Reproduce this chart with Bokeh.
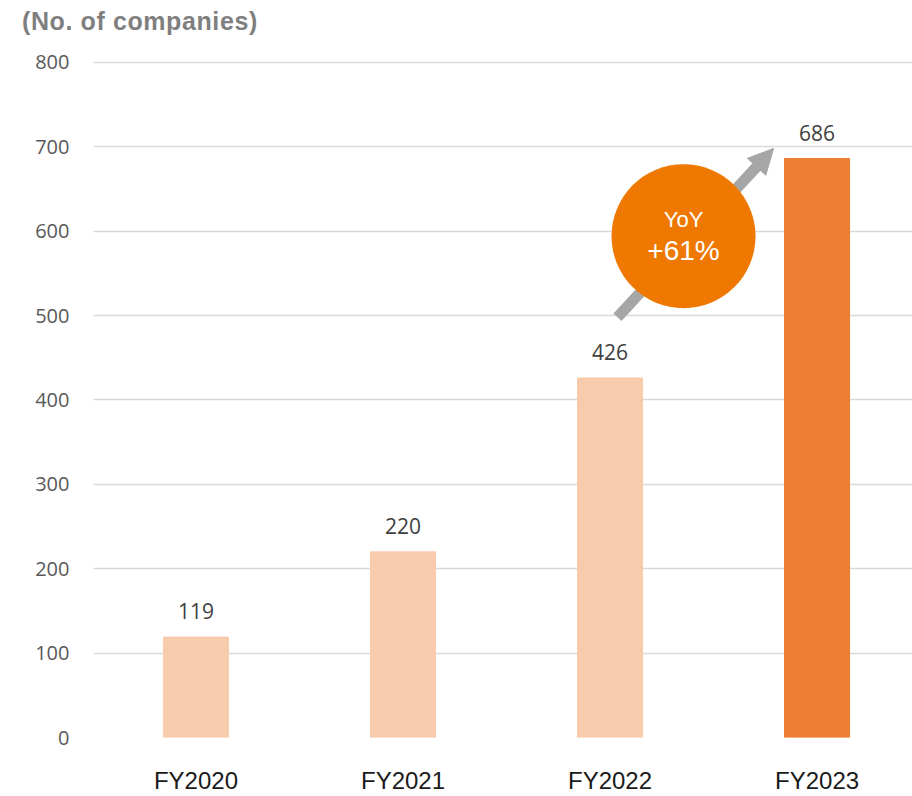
from bokeh.plotting import figure
from bokeh.layouts import column
from bokeh.models import Range1d, FixedTicker, Arrow, NormalHead, ColumnDataSource, Div
from bokeh.core.properties import value
from bokeh.embed import file_html
from bokeh.resources import INLINE

# ---- data ----
categories = ["FY2020", "FY2021", "FY2022", "FY2023"]
companies = [119, 220, 426, 686]
y_ticks = [0, 100, 200, 300, 400, 500, 600, 700, 800]
unit_label = "(No. of companies)"
yoy_label = "YoY"
yoy_pct = round((companies[3] / companies[2] - 1) * 100)

# ---- styles ----
bar_colors = ["#F8CBAD", "#F8CBAD", "#F8CBAD", "#ED7D31"]
grid_color = "#D9D9D9"

idx = list(range(len(categories)))

# unit title above the chart
head = Div(text=unit_label, width=912, height=45, margin=0,
           styles={"font-family": "Liberation Sans", "font-weight": "bold",
                   "font-size": "25px", "letter-spacing": "0.6px",
                   "line-height": "29px", "color": "#7F7F7F",
                   "padding-left": "22px", "padding-top": "7px",
                   "box-sizing": "border-box"})

p = figure(width=912, height=751,
           x_range=Range1d(-0.495, 3.461), y_range=Range1d(0, 801),
           output_backend="svg", toolbar_location=None,
           min_border_left=93, min_border_right=0,
           min_border_top=16, min_border_bottom=59, margin=0)
p.outline_line_color = None
p.background_fill_color = "white"
p.border_fill_color = "white"

# grid
p.xgrid.visible = False
p.ygrid.ticker = FixedTicker(ticks=y_ticks)
p.ygrid.grid_line_color = grid_color
p.ygrid.grid_line_width = 1.6

# axes
p.yaxis.ticker = FixedTicker(ticks=y_ticks)
p.yaxis.axis_line_color = None
p.yaxis.major_tick_line_color = None
p.yaxis.minor_tick_line_color = None
p.yaxis.major_tick_out = 0
p.yaxis.major_label_standoff = 24
p.yaxis.major_label_text_font = "Open Sans"
p.yaxis.major_label_text_font_size = "20px"
p.yaxis.major_label_text_color = "#595959"

p.xaxis.ticker = FixedTicker(ticks=idx)
p.xaxis.major_label_overrides = {i: c for i, c in zip(idx, categories)}
p.xaxis.axis_line_color = None
p.xaxis.major_tick_line_color = None
p.xaxis.minor_tick_line_color = None
p.xaxis.major_tick_out = 0
p.xaxis.major_label_standoff = 29
p.xaxis.major_label_text_font = "Liberation Sans"
p.xaxis.major_label_text_font_size = "24px"
p.xaxis.major_label_text_color = "#1A1A1A"

src = ColumnDataSource(dict(x=idx, top=companies, color=bar_colors,
                            label=[str(v) for v in companies]))
p.vbar(x="x", top="top", width=0.314, color="color", source=src)

p.text(x="x", y="top", text="label", source=src,
       text_align="center", text_baseline="alphabetic", y_offset=-26,
       text_font=value("Open Sans"), text_font_size="21px", text_color="#404040")

# arrow (behind the circle)
arrow = Arrow(x_start=2.036, y_start=498, x_end=2.79, y_end=698,
              line_color="#A6A6A6", line_width=11,
              end=NormalHead(size=25, fill_color="#A6A6A6", line_color="#A6A6A6"),
              level="underlay")
p.add_layout(arrow)

# YoY bubble
p.scatter(x=[2.355], y=[594], size=144, marker="circle",
          fill_color="#EE7800", line_color=None)
p.text(x=[2.355], y=[594], text=[yoy_label], text_align="center",
       text_baseline="middle", y_offset=-17,
       text_font=value("Liberation Sans"), text_font_size="22px", text_color="white")
p.text(x=[2.355], y=[594], text=[f"+{yoy_pct}%"], text_align="center",
       text_baseline="middle", y_offset=14,
       text_font=value("Liberation Sans"), text_font_size="28px", text_color="white")

layout = column(head, p, spacing=0, margin=0)

open("out.html", "w").write(file_html(layout, INLINE))
